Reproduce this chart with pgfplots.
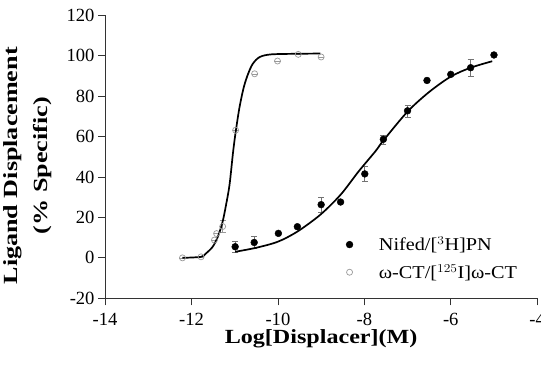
\documentclass[border=0pt]{standalone}
\usepackage{fontspec}
\setmainfont{Liberation Serif}
\usepackage{graphicx}
\usepackage{pgfplots}
\pgfplotsset{compat=1.18}
\begin{document}
\begin{tikzpicture}[trim right=432.5bp]
\begin{axis}[
  name=ax,
  scale only axis, width=428.7bp, height=281bp,
  xmin=-14, xmax=-4, ymin=-20, ymax=120,
  axis lines=left, axis line style={-, line width=0.8pt, black!80},
  xtick={-14,-12,...,-4}, ytick={-20,0,...,120},
  tick align=outside, major tick length=7bp,
  tick style={line width=0.8pt, black!80},
  /pgf/number format/assume math mode=true,
  tick label style={font=\fontsize{18.5}{18.5}\selectfont},
  xticklabel style={yshift=-4.5bp},
  xlabel={\scalebox{1.2}[1]{\textbf{Log[Displacer](M)}}},
  xlabel style={font=\fontsize{20}{20}\selectfont, yshift=3bp},
  ylabel={\scalebox{1.3}[1]{\textbf{Ligand Displacement}}\\[9bp]\scalebox{1.3}[1]{\textbf{(\% Specific)}}},
  ylabel style={font=\fontsize{20}{21}\selectfont, align=center, yshift=8bp, xshift=-9bp},
  legend style={draw=none, fill=none, at={(axis cs:-8.55,11.5)}, anchor=north west,
    font=\fontsize{18}{18}\selectfont, row sep=8bp, legend cell align=left, inner sep=0pt},
  legend image code/.code={\path (0,0) (1.25cm,0); \draw[#1] plot coordinates {(0.3cm,0cm)};},
  clip=false,
]
% Nifed data
\addplot[only marks, mark=*, mark size=3.4bp, black,
  error bars/.cd, y dir=both, y explicit,
  error bar style={black!55, line width=0.8pt}, error mark options={rotate=90, mark size=3bp, black!55}]
  coordinates {
  (-10.99,5.5) +- (0,2.8)
  (-10.55,7.6) +- (0,2.9)
  (-9.99,12.1) +- (0,0)
  (-9.55,15.4) +- (0,0)
  (-9.0,26.3) +- (0,3.8)
  (-8.55,27.6) +- (0,0)
  (-7.99,41.5) +- (0,3.7)
  (-7.56,58.6) +- (0,2.2)
  (-7.0,72.7) +- (0,3.0)
  (-6.55,87.7) +- (0,0)
  (-6.0,90.7) +- (0,0)
  (-5.54,94.0) +- (0,4.2)
  (-5.0,100.3) +- (0,0)
};
\addlegendentry{\scalebox{1.12}[1]{Nifed/[$^{3}$H]PN}}
% omega-CT data
\addplot[only marks, mark=o, mark size=3bp, black!40, mark options={line width=0.7pt, fill=white},
  error bars/.cd, y dir=both, y explicit,
  error bar style={black!40, line width=0.7pt}, error mark options={rotate=90, mark size=3bp, black!40}]
  coordinates {
  (-12.21,0) +- (0,0)
  (-11.78,0.5) +- (0,0)
  (-11.47,8.8) +- (0,0)
  (-11.42,12) +- (0,0)
  (-11.28,15.5) +- (0,3)
  (-10.98,63.1) +- (0,0)
  (-10.54,91) +- (0,0)
  (-10.01,97.3) +- (0,0)
  (-9.53,100.6) +- (0,0)
  (-9.0,99.3) +- (0,0)
};
\addlegendentry{\scalebox{1.12}[1]{ω-CT/[$^{125}$I]ω-CT}}
% Nifed fit
\addplot[black, line width=1.7pt, smooth, forget plot] coordinates {
  (-10.99,3.0) (-10.5,5.0) (-10.0,8.0) (-9.55,13.0) (-9.02,21.3) (-8.55,31.2)
  (-8.13,42.8) (-7.74,52.8) (-7.56,58.0) (-7.0,72.3) (-6.5,82.0) (-6.0,89.6)
  (-5.54,94.0) (-5.04,97.2)
};
% omega-CT fit
\addplot[black, line width=1.7pt, smooth, forget plot] coordinates {
  (-12.21,0) (-11.78,0.5) (-11.67,2.1) (-11.51,5.5) (-11.39,10.5) (-11.28,17.9)
  (-11.2,26.3) (-11.12,36.2) (-11.04,52.0) (-10.98,62.0) (-10.89,74.4)
  (-10.79,84.4) (-10.69,91.0) (-10.58,96.0) (-10.42,99.3) (-10.15,100.6)
  (-9.5,100.9) (-9.02,101.0)
};
\end{axis}
\path ([yshift=15bp]ax.north west) ([yshift=-73bp]ax.south west);
\end{tikzpicture}
\end{document}
